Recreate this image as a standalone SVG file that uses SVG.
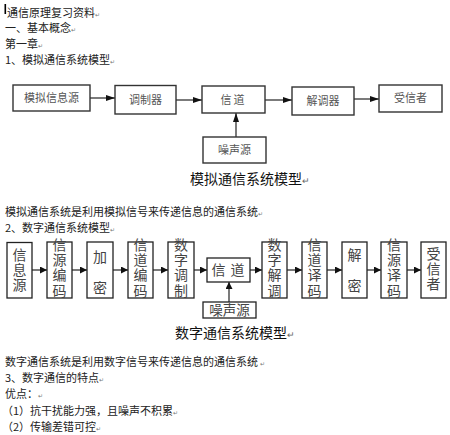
<svg xmlns="http://www.w3.org/2000/svg" width="450" height="435" viewBox="0 0 450 435">
<style>
.t{font-family:"Noto Sans CJK SC","Liberation Sans",sans-serif;font-size:11px;fill:#222}
.pm{font-size:6px;fill:#777}
.cap{font-family:"Noto Sans CJK SC","Liberation Sans",sans-serif;font-size:14px;fill:#111}
.cm{font-size:9px;fill:#666}
.b1{fill:#fff;stroke:#333;stroke-width:1.4}
.l1{font-family:"Noto Sans CJK SC","Liberation Serif",serif;font-size:11px;fill:#555;text-anchor:middle}
.b2{fill:#fff;stroke:#222;stroke-width:1.3}
.l2{font-family:"Noto Sans CJK SC","Liberation Serif",serif;font-size:14px;fill:#444;text-anchor:middle}
.v{font-family:"Noto Sans CJK SC","Liberation Serif",serif;font-size:14px;fill:#444;writing-mode:vertical-rl;text-anchor:start}
.v4{letter-spacing:1.3px}
.v3{letter-spacing:1px}
.v2{letter-spacing:17px}
.c{stroke:#222;stroke-width:1.2;fill:none}
</style>
<defs>
<marker id="ah" markerWidth="9" markerHeight="6" refX="9" refY="3" orient="auto" markerUnits="userSpaceOnUse">
<path d="M0,0 L9,3 L0,6 Z" fill="#111"/>
</marker>
<marker id="ah2" markerWidth="7" markerHeight="7" refX="7" refY="3.5" orient="auto" markerUnits="userSpaceOnUse">
<path d="M0,0 L7,3.5 L0,7 Z" fill="#111"/>
</marker>
</defs>
<rect width="450" height="435" fill="#fff"/>

<!-- document text -->
<rect x="4.5" y="4" width="1.6" height="10" fill="#000"/>
<text class="t" x="7" y="17">通信原理复习资料<tspan class="pm">↵</tspan></text>
<text class="t" x="5" y="32">一、基本概念<tspan class="pm">↵</tspan></text>
<text class="t" x="5" y="48">第一章<tspan class="pm">↵</tspan></text>
<text class="t" x="5" y="64">1、模拟通信系统模型<tspan class="pm">↵</tspan></text>

<text class="cap" x="190" y="184">模拟通信系统模型<tspan class="cm">↵</tspan></text>

<text class="t" x="5" y="216">模拟通信系统是利用模拟信号来传递信息的通信系统<tspan class="pm">↵</tspan></text>
<text class="t" x="5" y="232">2、数字通信系统模型<tspan class="pm">↵</tspan></text>

<text class="cap" x="175" y="338">数字通信系统模型<tspan class="cm">↵</tspan></text>

<text class="t" x="5" y="366">数字通信系统是利用数字信号来传递信息的通信系统 <tspan class="pm">  ↵</tspan></text>
<text class="t" x="5" y="382">3、数字通信的特点<tspan class="pm">↵</tspan></text>
<text class="t" x="5" y="398">优点：<tspan class="pm">↵</tspan></text>
<text class="t" x="2" y="415">（1）抗干扰能力强，且噪声不积累<tspan class="pm">↵</tspan></text>
<text class="t" x="2" y="431">（2）传输差错可控<tspan class="pm">↵</tspan></text>

<!-- connectors -->
<g id="connectors">
<line class="c" x1="90" y1="98" x2="115" y2="98" marker-end="url(#ah)"/>
<line class="c" x1="176" y1="100" x2="202" y2="100" marker-end="url(#ah)"/>
<line class="c" x1="265" y1="100" x2="292" y2="100" marker-end="url(#ah)"/>
<line class="c" x1="354" y1="99" x2="379" y2="99" marker-end="url(#ah)"/>
<line class="c" x1="236" y1="137" x2="236" y2="113" marker-end="url(#ah)"/>

<line class="c" x1="32" y1="270" x2="47" y2="270" marker-end="url(#ah2)"/>
<line class="c" x1="72" y1="270" x2="87" y2="270" marker-end="url(#ah2)"/>
<line class="c" x1="113" y1="270" x2="128" y2="270" marker-end="url(#ah2)"/>
<line class="c" x1="153" y1="270" x2="168" y2="270" marker-end="url(#ah2)"/>
<line class="c" x1="194" y1="270" x2="207" y2="270" marker-end="url(#ah2)"/>
<line class="c" x1="250" y1="270" x2="262" y2="270" marker-end="url(#ah2)"/>
<line class="c" x1="287" y1="270" x2="302" y2="270" marker-end="url(#ah2)"/>
<line class="c" x1="327" y1="270" x2="342" y2="270" marker-end="url(#ah2)"/>
<line class="c" x1="367" y1="270" x2="381" y2="270" marker-end="url(#ah2)"/>
<line class="c" x1="407" y1="270" x2="421" y2="270" marker-end="url(#ah2)"/>
<line class="c" x1="229" y1="302" x2="229" y2="282" marker-end="url(#ah2)"/>
</g>

<!-- analog model -->
<g id="a-source"><rect class="b1" x="13" y="85" width="77" height="26"/><text class="l1" x="51.5" y="102">模拟信息源</text></g>
<g id="a-modulator"><rect class="b1" x="115" y="85.5" width="61" height="28.5"/><text class="l1" x="145.5" y="104">调制器</text></g>
<g id="a-channel"><rect class="b1" x="202" y="86" width="63" height="27"/><text class="l1" x="233.5" y="104" letter-spacing="2">信道</text></g>
<g id="a-demodulator"><rect class="b1" x="292" y="87" width="62" height="28"/><text class="l1" x="323" y="105">解调器</text></g>
<g id="a-receiver"><rect class="b1" x="379" y="85" width="63" height="27"/><text class="l1" x="410.5" y="102">受信者</text></g>
<g id="a-noise"><rect class="b1" x="203" y="137" width="63" height="26"/><text class="l1" x="234.5" y="154">噪声源</text></g>

<!-- digital model -->
<g id="d-source"><rect class="b2" x="7" y="242.5" width="25" height="55.5"/>
<text class="v v3" x="19.5" y="248">信息源</text></g>
<g id="d-srcenc"><rect class="b2" x="47" y="242" width="25" height="56"/>
<text class="v v4" x="59.5" y="237.5">信源编码</text></g>
<g id="d-encrypt"><rect class="b2" x="87" y="242" width="26" height="56"/>
<text class="v v2" x="100" y="250">加密</text></g>
<g id="d-chenc"><rect class="b2" x="128" y="242" width="25" height="56"/>
<text class="v v4" x="140.5" y="237.5">信道编码</text></g>
<g id="d-mod"><rect class="b2" x="168" y="242" width="26" height="56"/>
<text class="v v4" x="181" y="237.5">数字调制</text></g>
<g id="d-channel"><rect class="b2" x="207" y="258" width="43" height="24"/>
<text class="l2" x="228.5" y="275" letter-spacing="1">信 道</text></g>
<g id="d-noise"><rect class="b2" x="203" y="302" width="53" height="16"/>
<text class="l2" x="229.5" y="315" style="font-size:13.5px">噪声源</text></g>
<g id="d-demod"><rect class="b2" x="262" y="242" width="25" height="56"/>
<text class="v v4" x="274.5" y="237.5">数字解调</text></g>
<g id="d-chdec"><rect class="b2" x="302" y="242" width="25" height="56"/>
<text class="v v4" x="314.5" y="237.5">信道译码</text></g>
<g id="d-decrypt"><rect class="b2" x="342" y="242" width="25" height="56"/>
<text class="v v2" x="354.5" y="248">解密</text></g>
<g id="d-srcdec"><rect class="b2" x="381" y="242" width="26" height="56"/>
<text class="v v4" x="394" y="237.5">信源译码</text></g>
<g id="d-receiver"><rect class="b2" x="421" y="242" width="25" height="56"/>
<text class="v v3" x="433.5" y="247">受信者</text></g>
</svg>
